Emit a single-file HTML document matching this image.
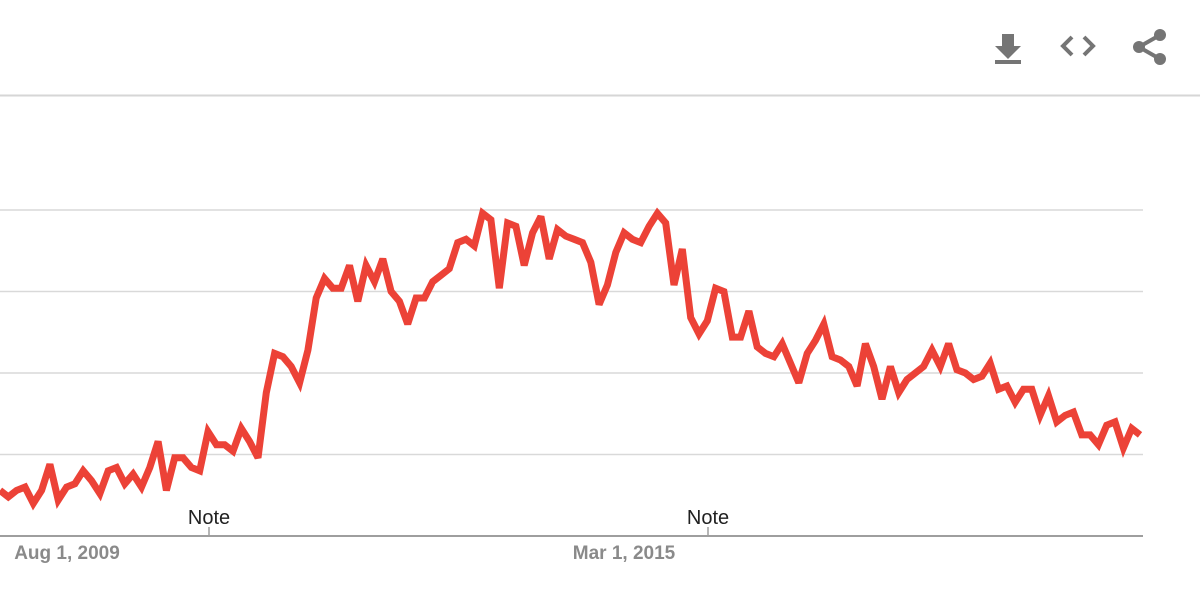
<!DOCTYPE html>
<html><head><meta charset="utf-8"><style>
body{margin:0;background:#fff;width:1200px;height:606px;overflow:hidden;font-family:"Liberation Sans",sans-serif}
</style></head><body>
<svg width="1200" height="606">
<line x1="0" y1="95.5" x2="1200" y2="95.5" stroke="#d6d6d6" stroke-width="2"/>
<g fill="#757575">
<path d="M1002 34h12v12h7l-13 13-13-13h7z"/><rect x="995" y="60" width="26" height="4"/>
</g>
<g fill="none" stroke="#757575" stroke-width="4">
<path d="M1072 37l-9 9 9 9M1084 37l9 9-9 9"/>
</g>
<g fill="#757575">
<circle cx="1160" cy="35" r="6"/><circle cx="1139" cy="47" r="6"/><circle cx="1160" cy="59" r="6"/>
<path d="M1160 35L1139 47L1160 59" stroke="#757575" stroke-width="4" fill="none"/>
</g>
<g id="grid"></g>
<line x1="0" y1="536" x2="1143" y2="536" stroke="#9e9e9e" stroke-width="2"/>
<g id="xlabels"></g>
<path id="series" fill="none" stroke="#ec4237" stroke-width="7" stroke-linejoin="miter" stroke-miterlimit="3"/>
</svg>
<script>
const values=[14,12,14,15,10,14,22,11,15,16,20,17,13,20,21,16,19,15,21,29,14,24,24,21,20,32,28,28,26,33,29,24,44,56,55,52,47,57,73,79,76,76,83,72,83,78,85,75,72,65,73,73,78,80,82,90,91,89,99,97,76,96,95,83,93,98,85,94,92,91,90,84,71,77,87,93,91,90,95,99,96,77,88,67,62,66,76,75,61,61,69,58,56,55,59,53,47,56,60,65,55,54,52,46,59,52,42,52,44,48,50,52,57,52,59,51,50,48,49,53,45,46,41,45,45,37,43,35,37,38,31,31,28,34,35,27,33,31];
const gridValues=[25,50,75,100];
const tickLabels=["Aug 1, 2009","Mar 1, 2015"];
const x0=0,x1=1140,yBase=536,yTop=210;
const xs=i=>x0+(x1-x0)*i/(values.length-1);
const ys=v=>yBase-(yBase-yTop)*v/100;
const NS="http://www.w3.org/2000/svg";
const grid=document.getElementById('grid');
gridValues.forEach(g=>{const l=document.createElementNS(NS,'line');
l.setAttribute('x1',0);l.setAttribute('x2',1143);l.setAttribute('y1',ys(g));l.setAttribute('y2',ys(g));
l.setAttribute('stroke','#d9d9d9');l.setAttribute('stroke-width','1.5');


grid.appendChild(l);});
const xl=document.getElementById('xlabels');
const ticksX=[209,708];
ticksX.forEach((x,i)=>{const t=document.createElementNS(NS,'line');
t.setAttribute('x1',x);t.setAttribute('x2',x);t.setAttribute('y1',527);t.setAttribute('y2',536);t.setAttribute('stroke','#9e9e9e');t.setAttribute('stroke-width','1.5');


xl.appendChild(t);
const n=document.createElementNS(NS,'text');n.setAttribute('x',x);n.setAttribute('y',524);n.setAttribute('text-anchor','middle');n.setAttribute('font-size','20');n.setAttribute('fill','#212121');n.textContent='Note';


xl.appendChild(n);});
const labelX=[67,624];
tickLabels.forEach((s,i)=>{const t=document.createElementNS(NS,'text');t.setAttribute('x',labelX[i]);t.setAttribute('y',559);t.setAttribute('text-anchor','middle');t.setAttribute('font-size','19');t.setAttribute('font-weight','bold');t.setAttribute('fill','#8a8a8a');t.textContent=s;


xl.appendChild(t);});
document.getElementById('series').setAttribute('d',values.map((v,i)=>(i?'L':'M')+xs(i).toFixed(1)+' '+ys(v).toFixed(1)).join(''));
</script>
</body></html>
